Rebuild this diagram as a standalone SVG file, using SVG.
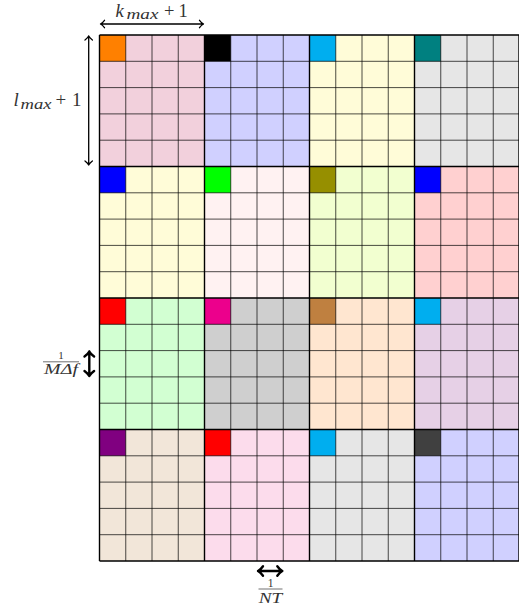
<svg xmlns="http://www.w3.org/2000/svg" width="519" height="605" viewBox="0 0 519 605">
<style>
.gl{fill:none;stroke:#000;stroke-opacity:0.7;stroke-width:1}
.bl{fill:none;stroke:#000;stroke-width:1.4}
.ar{fill:none;stroke:#000;stroke-linecap:round;stroke-linejoin:round}
.m{font-family:"Liberation Serif","DejaVu Serif",serif;fill:#333}
.i{font-style:italic}
</style>
<rect width="519" height="605" fill="#fff"/>
<g id="blocks">
<g id="b11"><rect x="99.5" y="35" width="105" height="131.5" fill="#F2D0DC"/><rect x="99.5" y="35" width="26.25" height="26.3" fill="#FF8000"/></g>
<g id="b12"><rect x="204.5" y="35" width="105" height="131.5" fill="#D0D0FF"/><rect x="204.5" y="35" width="26.25" height="26.3" fill="#000000"/></g>
<g id="b13"><rect x="309.5" y="35" width="105" height="131.5" fill="#FFFCD8"/><rect x="309.5" y="35" width="26.25" height="26.3" fill="#00AEEF"/></g>
<g id="b14"><rect x="414.5" y="35" width="105" height="131.5" fill="#E6E6E6"/><rect x="414.5" y="35" width="26.25" height="26.3" fill="#008080"/></g>
<g id="b21"><rect x="99.5" y="166.5" width="105" height="131.5" fill="#FFFCD8"/><rect x="99.5" y="166.5" width="26.25" height="26.3" fill="#0000FF"/></g>
<g id="b22"><rect x="204.5" y="166.5" width="105" height="131.5" fill="#FFF2F2"/><rect x="204.5" y="166.5" width="26.25" height="26.3" fill="#00FF00"/></g>
<g id="b23"><rect x="309.5" y="166.5" width="105" height="131.5" fill="#F2FFD0"/><rect x="309.5" y="166.5" width="26.25" height="26.3" fill="#968F00"/></g>
<g id="b24"><rect x="414.5" y="166.5" width="105" height="131.5" fill="#FFD0D0"/><rect x="414.5" y="166.5" width="26.25" height="26.3" fill="#0000FF"/></g>
<g id="b31"><rect x="99.5" y="298" width="105" height="131.5" fill="#D2FFD2"/><rect x="99.5" y="298" width="26.25" height="26.3" fill="#FF0000"/></g>
<g id="b32"><rect x="204.5" y="298" width="105" height="131.5" fill="#CFCFCF"/><rect x="204.5" y="298" width="26.25" height="26.3" fill="#EC008C"/></g>
<g id="b33"><rect x="309.5" y="298" width="105" height="131.5" fill="#FFE6D0"/><rect x="309.5" y="298" width="26.25" height="26.3" fill="#BF8040"/></g>
<g id="b34"><rect x="414.5" y="298" width="105" height="131.5" fill="#E6D0E6"/><rect x="414.5" y="298" width="26.25" height="26.3" fill="#00AEEF"/></g>
<g id="b41"><rect x="99.5" y="429.5" width="105" height="131.5" fill="#F2E6D9"/><rect x="99.5" y="429.5" width="26.25" height="26.3" fill="#800080"/></g>
<g id="b42"><rect x="204.5" y="429.5" width="105" height="131.5" fill="#FCDCEC"/><rect x="204.5" y="429.5" width="26.25" height="26.3" fill="#FF0000"/></g>
<g id="b43"><rect x="309.5" y="429.5" width="105" height="131.5" fill="#E6E6E6"/><rect x="309.5" y="429.5" width="26.25" height="26.3" fill="#00AEEF"/></g>
<g id="b44"><rect x="414.5" y="429.5" width="105" height="131.5" fill="#D0D0FF"/><rect x="414.5" y="429.5" width="26.25" height="26.3" fill="#404040"/></g>
</g>
<g id="grid">
<path class="gl" d="M125.75 35V561M152 35V561M178.25 35V561M230.75 35V561M257 35V561M283.25 35V561M335.75 35V561M362 35V561M388.25 35V561M440.75 35V561M467 35V561M493.25 35V561
M99.5 61.3H519.5M99.5 87.6H519.5M99.5 113.9H519.5M99.5 140.2H519.5M99.5 192.8H519.5M99.5 219.1H519.5M99.5 245.4H519.5M99.5 271.7H519.5M99.5 324.3H519.5M99.5 350.6H519.5M99.5 376.9H519.5M99.5 403.2H519.5M99.5 455.8H519.5M99.5 482.1H519.5M99.5 508.4H519.5M99.5 534.7H519.5"/>
<path class="bl" d="M99.5 35V561M204.5 35V561M309.5 35V561M414.5 35V561M519 35V561M99.5 35H519.5M99.5 166.5H519.5M99.5 298H519.5M99.5 429.5H519.5M99.5 561H519.5"/>
</g>
<g id="connectors">
<path class="ar" stroke-width="1.3" d="M100.5 24H203.5M104.5 20.3Q102.5 23 100.5 24Q102.5 25 104.5 27.7M199.5 20.3Q201.5 23 203.5 24Q201.5 25 199.5 27.7"/>
<path class="ar" stroke-width="1.3" d="M88.7 36V165M85 40Q87.7 38 88.7 36Q89.7 38 92.4 40M85 161Q87.7 163 88.7 165Q89.7 163 92.4 161"/>
<path class="ar" stroke-width="2.4" d="M89.3 351.5V376M84.5 356.5Q88 354 89.3 351.5Q90.6 354 94.1 356.5M84.5 371Q88 373.5 89.3 376Q90.6 373.5 94.1 371"/>
<path class="ar" stroke-width="2.4" d="M258 571H282.3M263 566.2Q260.5 569.7 258 571Q260.5 572.3 263 575.8M277.3 566.2Q279.8 569.7 282.3 571Q279.8 572.3 277.3 575.8"/>
</g>
<g id="labels">
<text class="m i" x="115.5" y="16.5" font-size="18.5">k</text>
<text class="m i" x="126.5" y="18.5" font-size="14" textLength="32" lengthAdjust="spacingAndGlyphs">max</text>
<text class="m" x="164" y="16.5" font-size="18.5">+</text>
<text class="m" x="178.5" y="16.5" font-size="18.5">1</text>
<text class="m i" x="13.5" y="106" font-size="19">l</text>
<text class="m i" x="20.5" y="108.5" font-size="14.5" textLength="31" lengthAdjust="spacingAndGlyphs">max</text>
<text class="m" x="55.5" y="106" font-size="19">+</text>
<text class="m" x="72" y="106" font-size="19">1</text>
<text class="m" x="61" y="359" font-size="11" text-anchor="middle">1</text>
<line x1="43" y1="361.8" x2="79" y2="361.8" stroke="#333" stroke-width="0.7"/>
<text class="m i" x="44" y="374" font-size="14" textLength="34" lengthAdjust="spacingAndGlyphs">MΔf</text>
<text class="m" x="270.5" y="586.5" font-size="11.5" text-anchor="middle">1</text>
<line x1="258.5" y1="589" x2="282.5" y2="589" stroke="#333" stroke-width="0.7"/>
<text class="m i" x="258.8" y="602.5" font-size="15.5" textLength="23.5" lengthAdjust="spacingAndGlyphs">NT</text>
</g>
</svg>
